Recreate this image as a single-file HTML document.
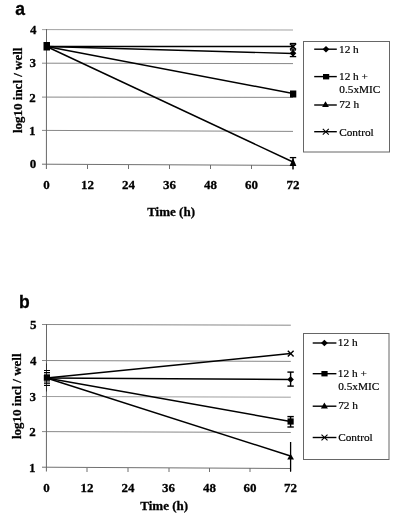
<!DOCTYPE html>
<html><head><meta charset="utf-8">
<style>
html,body{margin:0;padding:0;background:#fff;}
body{width:400px;height:522px;overflow:hidden;}
svg{display:block;filter:grayscale(1);}
text{font-family:"Liberation Serif",serif;fill:#000;}
.b{font-weight:bold;font-size:13px;stroke:#000;stroke-width:0.28px;}
.lg{font-size:11.3px;stroke:#000;stroke-width:0.2px;}
.pl{font-family:"Liberation Sans",sans-serif;font-weight:bold;font-size:17.5px;stroke:#000;stroke-width:0.3px;}
.g{stroke:#737373;stroke-width:0.85;}
.ax{stroke:#686868;stroke-width:0.95;}
.d{stroke:#000;stroke-width:1.45;fill:none;}
.e{stroke:#000;stroke-width:1;fill:none;}
</style></head><body>
<svg width="400" height="522" viewBox="0 0 400 522">
<rect width="400" height="522" fill="#fff"/>

<!-- ===== chart a ===== -->
<text class="pl" x="15.3" y="14.9">a</text>
<g>
<line class="g" x1="42" x2="293" y1="29.6" y2="30" style="stroke:#909090"/>
<line class="g" x1="42" x2="293" y1="63.2" y2="63.6"/>
<line class="g" x1="42" x2="293" y1="97.1" y2="97.4"/>
<line class="g" x1="42" x2="293" y1="130.4" y2="131.4"/>
<line class="ax" x1="42" x2="293" y1="164.2" y2="165.4"/>
<line class="ax" x1="46.5" x2="46.4" y1="29" y2="169" style="stroke-width:1"/>
<g class="ax">
<line x1="87.5" x2="87.5" y1="165" y2="169"/><line x1="128.5" x2="128.5" y1="165" y2="169"/>
<line x1="169.5" x2="169.5" y1="165" y2="169"/><line x1="210.5" x2="210.5" y1="165" y2="169"/>
<line x1="251.5" x2="251.5" y1="165" y2="169"/><line x1="293" x2="293" y1="165" y2="169"/>
</g>
</g>
<g class="b" text-anchor="end">
<text x="36.4" y="33.5">4</text><text x="36.1" y="66.9">3</text><text x="35.7" y="101.5">2</text><text x="35.6" y="134.8">1</text><text x="36.3" y="168.4">0</text>
</g>
<g class="b" text-anchor="middle">
<text x="46.5" y="188.6">0</text><text x="87.5" y="188.6">12</text><text x="128.5" y="188.6">24</text><text x="169.5" y="188.6">36</text><text x="210.5" y="188.6">48</text><text x="251.5" y="188.6">60</text><text x="293" y="188.6">72</text>
<text x="171.1" y="216">Time (h)</text>
</g>
<text class="b" text-anchor="middle" transform="translate(21.5,90.3) rotate(-90)">log10 incl / well</text>

<!-- data a -->
<g class="d">
<line x1="46.5" y1="46.5" x2="293" y2="46.5"/>
<line x1="46.5" y1="46.5" x2="293" y2="53.5"/>
<line x1="46.5" y1="46.5" x2="293" y2="93.5"/>
<line x1="46.5" y1="46.5" x2="293" y2="162"/>
</g>
<rect x="43.5" y="42" width="6.5" height="8.5" fill="#000"/>
<!-- 72 markers a -->
<g class="e" style="stroke-width:1.3">
<line x1="293" x2="293" y1="43" y2="57"/><line x1="289.8" x2="296.2" y1="43.5" y2="43.5"/><line x1="289.8" x2="296.2" y1="56.6" y2="56.6"/>
<line x1="290" x2="296" y1="50" y2="50"/>
</g>
<path d="M290,43.8 L296,49.6 M296,43.8 L290,49.6" class="e" style="stroke-width:1.5"/>
<path d="M293,49.8 L296.3,53.3 L293,56.8 L289.7,53.3 Z" fill="#000"/>
<rect x="290" y="90.5" width="6.3" height="7" fill="#000"/>
<g class="e" style="stroke-width:1.3"><line x1="293" x2="293" y1="157.5" y2="169.5"/><line x1="289.8" x2="296.2" y1="157.6" y2="157.6"/></g>
<path d="M293,158 L296.4,166 L289.6,166 Z" fill="#000"/>

<!-- legend a -->
<rect x="303.5" y="41.5" width="86" height="110.5" fill="#fff" stroke="#666" stroke-width="1"/>
<g class="d" style="stroke-width:1.4">
<line x1="314.2" x2="336.8" y1="49.2" y2="49.2"/>
<line x1="314.2" x2="336.8" y1="76.6" y2="76.6"/>
<line x1="314.2" x2="336.8" y1="105" y2="105"/>
<line x1="314.2" x2="336.8" y1="131.7" y2="131.7"/>
</g>
<path d="M326,45.9 L329.4,49.2 L326,52.5 L322.6,49.2 Z" fill="#000"/>
<rect x="323" y="74" width="6.2" height="5.4" fill="#000"/>
<path d="M325.5,101.2 L328.9,107 L322.1,107 Z" fill="#000"/>
<path d="M322.8,128.8 L328.8,134.6 M328.8,128.8 L322.8,134.6" class="e" style="stroke-width:1.1"/>
<g class="lg">
<text x="339" y="52.5">12 h</text>
<text x="339" y="79.7">12 h +</text>
<text x="339.3" y="92.5">0.5xMIC</text>
<text x="339.3" y="108">72 h</text>
<text x="339.2" y="135.5">Control</text>
</g>

<!-- ===== chart b ===== -->
<text class="pl" x="19.1" y="307.7">b</text>
<g>
<line class="g" x1="42" x2="290.8" y1="324.5" y2="325.2"/>
<line class="g" x1="42" x2="290.8" y1="360.5" y2="361.4"/>
<line class="g" x1="42" x2="290.8" y1="396.5" y2="397.2" style="stroke:#8c8c8c"/>
<line class="g" x1="42" x2="290.8" y1="431.6" y2="432.5"/>
<line class="ax" x1="42" x2="290.8" y1="467.2" y2="468.5"/>
<line class="ax" x1="46.5" x2="46.4" y1="324" y2="471.5" style="stroke-width:1"/>
<g class="ax">
<line x1="87" x2="87" y1="468" y2="472"/><line x1="128" x2="128" y1="468" y2="472"/>
<line x1="169" x2="169" y1="468" y2="472"/><line x1="209.5" x2="209.5" y1="468" y2="472"/>
<line x1="250" x2="250" y1="468" y2="472"/><line x1="290.5" x2="290.5" y1="468" y2="472"/>
</g>
</g>
<g class="b" text-anchor="end">
<text x="36.4" y="328.9">5</text><text x="36.4" y="364.5">4</text><text x="36.1" y="400.6">3</text><text x="35.7" y="436">2</text><text x="35.6" y="471.6">1</text>
</g>
<g class="b" text-anchor="middle">
<text x="46.5" y="491.5">0</text><text x="87" y="491.5">12</text><text x="128" y="491.5">24</text><text x="168.5" y="491.5">36</text><text x="209.5" y="491.5">48</text><text x="250" y="491.5">60</text><text x="290.5" y="491.5">72</text>
<text x="164.2" y="510">Time (h)</text>
</g>
<text class="b" text-anchor="middle" transform="translate(20.8,396.2) rotate(-90)">log10 incl / well</text>

<!-- data b -->
<g class="d">
<line x1="46.5" y1="378" x2="290.5" y2="353.5"/>
<line x1="46.5" y1="378" x2="290.5" y2="379.5"/>
<line x1="46.5" y1="378" x2="290.5" y2="421.5"/>
<line x1="46.5" y1="378" x2="290.5" y2="456"/>
</g>
<!-- x0 cluster b -->
<g class="e">
<line x1="46.5" x2="46.5" y1="363.5" y2="391.5" style="stroke-width:0.8;stroke:#222"/>
<line x1="44" x2="50" y1="370.5" y2="370.5"/><line x1="44" x2="50" y1="372.5" y2="372.5"/><line x1="44" x2="50" y1="374.2" y2="374.2"/>
<line x1="44" x2="50" y1="382" y2="382"/><line x1="44" x2="50" y1="383.7" y2="383.7"/><line x1="44" x2="50" y1="385.5" y2="385.5"/>
</g>
<rect x="43.8" y="375" width="6.2" height="5.8" fill="#000"/>
<!-- 72 markers b -->
<path d="M287.8,350.8 L293.6,356.6 M293.6,350.8 L287.8,356.6" class="e" style="stroke-width:1.4"/>
<g class="e" style="stroke-width:1.4">
<line x1="290.6" x2="290.6" y1="372" y2="386"/><line x1="287.4" x2="293.8" y1="372.1" y2="372.1"/><line x1="287.4" x2="293.8" y1="386.1" y2="386.1"/>
<line x1="290.6" x2="290.6" y1="416.5" y2="427"/><line x1="287.4" x2="293.8" y1="416.6" y2="416.6"/><line x1="287.4" x2="293.8" y1="427" y2="427"/>
<line x1="290.6" x2="290.6" y1="442" y2="471.5" style="stroke-width:1.3"/>
</g>
<path d="M290.6,376.3 L293.9,379.5 L290.6,382.7 L287.3,379.5 Z" fill="#000"/>
<rect x="287.5" y="418.4" width="6.2" height="6.2" fill="#000"/>
<path d="M290.6,453.8 L294,459.6 L287.2,459.6 Z" fill="#000"/>

<!-- legend b -->
<rect x="303.5" y="333.5" width="85.5" height="126" fill="#fff" stroke="#666" stroke-width="1"/>
<g class="d" style="stroke-width:1.4">
<line x1="312.7" x2="336.4" y1="343" y2="343"/>
<line x1="312.7" x2="336.4" y1="373.7" y2="373.7"/>
<line x1="312.7" x2="336.4" y1="406.2" y2="406.2"/>
<line x1="312.7" x2="336.4" y1="437.5" y2="437.5"/>
</g>
<path d="M324.4,339.7 L327.8,343 L324.4,346.3 L321,343 Z" fill="#000"/>
<rect x="321.4" y="371" width="6.2" height="5.4" fill="#000"/>
<path d="M324.4,402.6 L327.9,408.4 L320.9,408.4 Z" fill="#000"/>
<path d="M321.5,434.6 L327.5,440.4 M327.5,434.6 L321.5,440.4" class="e" style="stroke-width:1.1"/>
<g class="lg">
<text x="337.8" y="346.3">12 h</text>
<text x="337.8" y="376.8">12 h +</text>
<text x="338.2" y="390">0.5xMIC</text>
<text x="338.2" y="409.3">72 h</text>
<text x="338.2" y="440.5">Control</text>
</g>
</svg>
</body></html>
